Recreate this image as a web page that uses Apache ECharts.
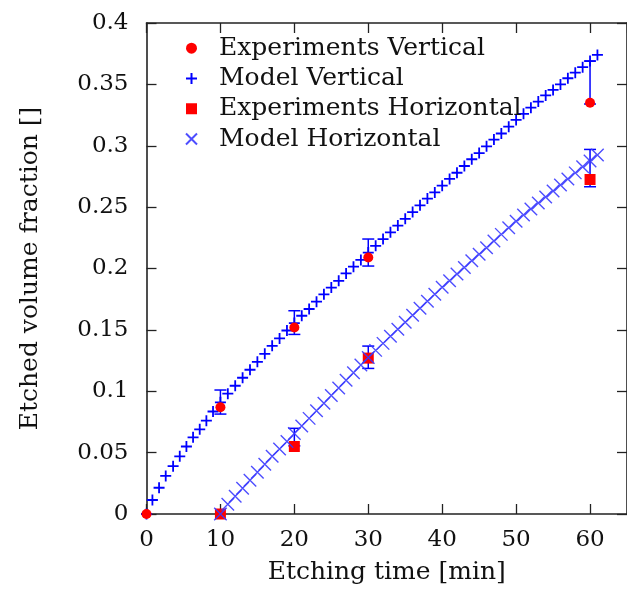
<!DOCTYPE html>
<html>
<head>
<meta charset="utf-8">
<script src="https://cdn.jsdelivr.net/npm/echarts@6/dist/echarts.min.js"></script>
<style>
  html, body { margin: 0; padding: 0; background: #fff; }
  #main { width: 627px; height: 592px; }
</style>
</head>
<body>
<div id="main"></div>
<script>
// experiments
const expVertT = [0, 10, 20, 30, 60];
const expVertV = [0, 0.087, 0.152, 0.209, 0.335];
const expHorT = [10, 20, 30, 60];
const expHorV = [0, 0.055, 0.127, 0.2725];

// model, vertical
const modVertT = [0, 0.8, 1.7, 2.6, 3.6, 4.5, 5.4, 6.3, 7.2, 8.1, 9,
  10, 11, 12, 13, 14, 15, 16, 17, 18, 19, 20, 21, 22, 23, 24, 25, 26, 27, 28, 29,
  30, 31, 32, 33, 34, 35, 36, 37, 38, 39, 40, 41, 42, 43, 44, 45, 46, 47, 48, 49,
  50, 51, 52, 53, 54, 55, 56, 57, 58, 59, 60, 61];
const modVertV = [0, 0.0114, 0.0214, 0.031, 0.039, 0.047, 0.055, 0.0625, 0.069, 0.076, 0.0835,
  0.091, 0.098, 0.1045, 0.111, 0.1175, 0.124, 0.1305, 0.137, 0.143, 0.1495,
  0.1555, 0.1615, 0.167, 0.173, 0.179, 0.1845, 0.190, 0.196, 0.2015, 0.207,
  0.213, 0.2185, 0.224, 0.2295, 0.235, 0.2405, 0.246, 0.2515, 0.257, 0.262,
  0.2675, 0.273, 0.278, 0.2835, 0.289, 0.294, 0.2995, 0.305, 0.310, 0.3155,
  0.321, 0.326, 0.331, 0.336, 0.341, 0.3455, 0.350, 0.355, 0.3595, 0.364,
  0.369, 0.374];

// model, horizontal
const modHorT = [10, 11, 12, 13, 14, 15, 16, 17, 18, 19, 20, 21, 22, 23, 24, 25, 26, 27, 28, 29,
  30, 31, 32, 33, 34, 35, 36, 37, 38, 39, 40, 41, 42, 43, 44, 45, 46, 47, 48, 49,
  50, 51, 52, 53, 54, 55, 56, 57, 58, 59, 60, 61];
const modHorV = [0, 0.008, 0.0145, 0.021, 0.0275, 0.034, 0.0405, 0.047, 0.053, 0.059,
  0.0655, 0.0717, 0.0779, 0.0841, 0.0903, 0.0965, 0.1027, 0.1089, 0.1151, 0.1213,
  0.1275, 0.1333, 0.139, 0.1448, 0.1505, 0.1562, 0.162, 0.1677, 0.1734, 0.179,
  0.1847, 0.1901, 0.1955, 0.2009, 0.2063, 0.2117, 0.217, 0.2224, 0.2278, 0.2332,
  0.2385, 0.2435, 0.2485, 0.2534, 0.2583, 0.2632, 0.2681, 0.273, 0.2779, 0.2828,
  0.2876, 0.2924];

// error bars
const errVertT = [10, 20, 30, 60];
const errVertLo = [0.0814, 0.1463, 0.202, 0.334];
const errVertHi = [0.101, 0.1656, 0.224, 0.369];
const errHorT = [20, 30, 60];
const errHorLo = [0.0555, 0.1186, 0.2666];
const errHorHi = [0.0698, 0.1368, 0.297];

const xTicks = [0, 10, 20, 30, 40, 50, 60];

const font = 'DejaVu Serif';
const ink = '#222';
const blue = '#0000ff';
const plusSym = 'path://M0,5L10,5M5,0L5,10';
const crossSym = 'path://M0,0L10,10M0,10L10,0';
const squareSym = 'path://M0,0L10,0L10,10L0,10Z';

function pairs(xs, ys) { return xs.map((x, i) => [x, ys[i]]); }
function bars(xs, lo, hi) { return xs.map((x, i) => [x, lo[i], hi[i]]); }

function renderBar(params, api) {
  const x = api.value(0);
  const p1 = api.coord([x, api.value(1)]);
  const p2 = api.coord([x, api.value(2)]);
  const st = { stroke: blue, lineWidth: 1.5 };
  return {
    type: 'group',
    children: [
      { type: 'line', shape: { x1: p1[0], y1: p1[1], x2: p2[0], y2: p2[1] }, style: st },
      { type: 'line', shape: { x1: p1[0] - 6, y1: p1[1], x2: p1[0] + 6, y2: p1[1] }, style: st },
      { type: 'line', shape: { x1: p2[0] - 6, y1: p2[1], x2: p2[0] + 6, y2: p2[1] }, style: st }
    ]
  };
}

const chart = echarts.init(document.getElementById('main'), null, { renderer: 'canvas' });

const tickStyle = { show: true, inside: true, length: 10, lineStyle: { color: ink, width: 1.3 } };
const lineStyle = { show: true, onZero: false, lineStyle: { color: ink, width: 1.6 } };

chart.setOption({
  animation: false,
  backgroundColor: '#fff',
  grid: { left: 146.5, right: -8.3, top: 23, bottom: 78, containLabel: false },
  legend: {
    orient: 'vertical',
    left: 180,
    top: 28,
    itemWidth: 45,
    itemHeight: 11,
    itemGap: 0,
    selectedMode: false,
    textStyle: { fontFamily: font, fontSize: 25, color: '#111', lineHeight: 30.3 },
    data: ['Experiments Vertical', 'Model Vertical', 'Experiments Horizontal', 'Model Horizontal']
  },
  xAxis: [{
    type: 'value', min: 0, max: 65, interval: 10,
    name: 'Etching time [min]', nameLocation: 'middle', nameGap: 46,
    nameTextStyle: { fontFamily: font, fontSize: 25, color: '#111' },
    axisLine: lineStyle, axisTick: tickStyle, splitLine: { show: false },
    axisLabel: {
      fontFamily: font, fontSize: 23, color: '#111', margin: 15, showMaxLabel: false,
      formatter: v => (xTicks.indexOf(v) >= 0 ? String(v) : '')
    }
  }, {
    type: 'value', min: 0, max: 65, interval: 10, position: 'top',
    axisLine: lineStyle, axisTick: tickStyle, axisLabel: { show: false }, splitLine: { show: false }
  }],
  yAxis: [{
    type: 'value', min: 0, max: 0.4, interval: 0.05,
    name: 'Etched volume fraction []', nameLocation: 'middle', nameGap: 104,
    nameTextStyle: { fontFamily: font, fontSize: 25, color: '#111' },
    axisLine: lineStyle, axisTick: tickStyle, splitLine: { show: false },
    axisLabel: { fontFamily: font, fontSize: 23, color: '#111', margin: 18 }
  }, {
    type: 'value', min: 0, max: 0.4, interval: 0.05, position: 'right',
    axisLine: lineStyle, axisTick: tickStyle, axisLabel: { show: false }, splitLine: { show: false }
  }],
  series: [
    {
      name: 'err-vert', type: 'custom', renderItem: renderBar, z: 1, silent: true,
      data: bars(errVertT, errVertLo, errVertHi)
    },
    {
      name: 'err-hor', type: 'custom', renderItem: renderBar, z: 1, silent: true,
      data: bars(errHorT, errHorLo, errHorHi)
    },
    {
      name: 'Model Vertical', type: 'scatter', z: 2, silent: true,
      symbol: plusSym, symbolSize: 11,
      itemStyle: { color: 'rgba(0,0,0,0)', borderColor: blue, borderWidth: 1.8, opacity: 1 },
      data: pairs(modVertT, modVertV)
    },
    {
      name: 'Experiments Vertical', type: 'scatter', z: 3, silent: true,
      symbol: 'circle', symbolSize: 10,
      itemStyle: { color: '#ff0000', opacity: 1 },
      data: pairs(expVertT, expVertV)
    },
    {
      name: 'Experiments Horizontal', type: 'scatter', z: 3, silent: true,
      symbol: squareSym, symbolSize: 11,
      itemStyle: { color: '#ff0000', opacity: 1 },
      data: pairs(expHorT, expHorV)
    },
    {
      name: 'Model Horizontal', type: 'scatter', z: 4, silent: true,
      symbol: crossSym, symbolSize: 12.5,
      itemStyle: { color: 'rgba(0,0,0,0)', borderColor: '#3a3aff', borderWidth: 1.4, opacity: 0.9 },
      data: pairs(modHorT, modHorV)
    }
  ]
});
</script>
</body>
</html>
